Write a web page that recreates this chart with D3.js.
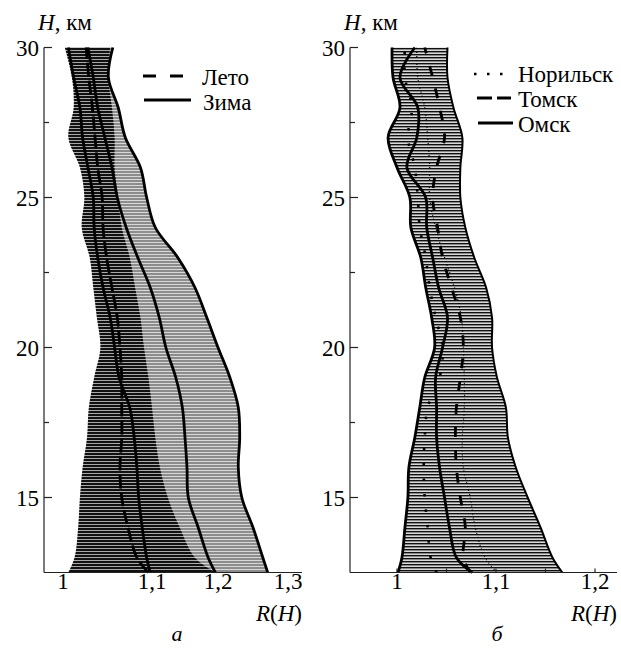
<!DOCTYPE html>
<html>
<head>
<meta charset="utf-8">
<script src="https://cdn.jsdelivr.net/npm/d3@7/dist/d3.min.js"></script>
<style>
  body { margin: 0; background: #fff; }
  svg text { font-family: "Liberation Serif", "Times New Roman", Times, "DejaVu Serif", "Noto Serif", serif; fill: #000; }
</style>
</head>
<body>
<svg id="chart" width="621" height="648" font-family="Liberation Serif, Times New Roman, DejaVu Serif, serif"></svg>
<script>
// Altitude levels, km (shared by both panels)
const heights = [12.5, 13, 14, 15, 16, 17, 18, 19, 20, 21, 22, 23, 24, 25, 26, 27, 28, 29, 30];

// Panel а: summer / winter profiles of R(H)
const letoLo   = [1.006, 1.013, 1.017, 1.019, 1.022, 1.027, 1.029, 1.035, 1.042, 1.038, 1.034, 1.030, 1.021, 1.024, 1.019, 1.006, 1.012, 1.010, 1.002];
const letoMean = [1.096, 1.083, 1.073, 1.066, 1.064, 1.066, 1.066, 1.066, 1.064, 1.061, 1.055, 1.049, 1.045, 1.044, 1.039, 1.036, 1.033, 1.029, 1.026];
const letoHi   = [1.196, 1.165, 1.142, 1.124, 1.112, 1.105, 1.100, 1.096, 1.091, 1.087, 1.081, 1.075, 1.066, 1.062, 1.058, 1.058, 1.055, 1.051, 1.053];
const zimaLo   = [1.098, 1.094, 1.089, 1.085, 1.083, 1.080, 1.075, 1.063, 1.058, 1.053, 1.045, 1.039, 1.035, 1.034, 1.028, 1.022, 1.019, 1.012, 1.006];
const zimaMean = [1.196, 1.185, 1.170, 1.155, 1.153, 1.150, 1.146, 1.136, 1.121, 1.111, 1.098, 1.084, 1.071, 1.061, 1.055, 1.047, 1.039, 1.034, 1.028];
const zimaHi   = [1.271, 1.264, 1.250, 1.234, 1.229, 1.231, 1.229, 1.217, 1.200, 1.183, 1.165, 1.139, 1.105, 1.094, 1.087, 1.070, 1.062, 1.051, 1.056];

// Panel б: stations
const bandLo   = [1.001, 1.005, 1.008, 1.011, 1.012, 1.018, 1.023, 1.028, 1.038, 1.035, 1.029, 1.024, 1.014, 1.013, 1.000, 0.991, 1.003, 0.996, 0.995];
const bandHi   = [1.167, 1.157, 1.145, 1.132, 1.120, 1.112, 1.110, 1.101, 1.096, 1.096, 1.090, 1.078, 1.069, 1.064, 1.064, 1.066, 1.057, 1.051, 1.051];
const omsk     = [1.076, 1.060, 1.053, 1.048, 1.043, 1.040, 1.040, 1.039, 1.046, 1.051, 1.042, 1.036, 1.030, 1.029, 1.010, 1.020, 1.021, 1.003, 1.018];
const tomsk    = [1.074, 1.067, 1.069, 1.064, 1.060, 1.059, 1.060, 1.064, 1.067, 1.064, 1.055, 1.046, 1.041, 1.036, 1.040, 1.048, 1.043, 1.036, 1.028];
const norilsk  = [1.101, 1.089, 1.079, 1.074, 1.067, 1.066, 1.068, 1.068, 1.067, 1.065, 1.058, 1.048, 1.039, 1.033, 1.033, 1.031, 1.028, 1.021, 1.020];
const norilskLo = [1.040, 1.034, 1.031, 1.028, 1.027, 1.028, 1.031, 1.043, 1.046, 1.039, 1.033, 1.029, 1.023, 1.021, 1.018, 1.011, 1.015, 1.008, 1.008];

// Tick labels
const yMajor = [15, 20, 25, 30];
const yMinor = [17.5, 22.5, 27.5];
const xTicksA = [1, 1.1, 1.2, 1.3];
const xTicksB = [1, 1.1, 1.2];
const xMinorB = [1, 1.05, 1.1, 1.15, 1.2];

const svg = d3.select('#chart');
const fmt = d3.formatLocale({ decimal: ',', thousands: ' ', grouping: [3], currency: ['', ''] }).format('~g');

// Hatch fills (horizontal error-bar lines)
const defs = svg.append('defs');
function hatch(id, bg, fg, lineH) {
  const p = defs.append('pattern')
    .attr('id', id)
    .attr('patternUnits', 'userSpaceOnUse')
    .attr('width', 6)
    .attr('height', 3);
  p.append('rect').attr('width', 6).attr('height', 3).attr('fill', bg);
  p.append('rect').attr('width', 6).attr('height', lineH).attr('fill', fg);
}
hatch('hatch-dark', '#a8a8a8', '#111', 2);
hatch('hatch-gray', '#d8d8d8', '#8c8c8c', 2);
hatch('hatch-b', '#d8d8d8', '#111', 1.4);

const y = d3.scaleLinear().domain([12.5, 30]).range([572.5, 47.5]);
const xA = d3.scaleLinear().domain([1, 1.1, 1.2, 1.3]).range([63, 152, 218, 288]);
const xB = d3.scaleLinear().domain([1, 1.2]).range([397, 595]);

const rows = (lo, hi) => heights.map((h, i) => ({ h, lo: lo[i], hi: hi[i] }));
const pts = (vals) => heights.map((h, i) => ({ h, v: vals[i] }));

function band(g, x, lo, hi, fill) {
  const area = d3.area()
    .curve(d3.curveCatmullRom)
    .y((d) => y(d.h))
    .x0((d) => x(d.lo))
    .x1((d) => x(d.hi));
  g.append('path').datum(rows(lo, hi)).attr('d', area).attr('fill', fill);
}

function curve(g, x, vals, opts) {
  const line = d3.line()
    .curve(d3.curveCatmullRom)
    .x((d) => x(d.v))
    .y((d) => y(d.h));
  g.append('path').datum(pts(vals))
    .attr('d', line)
    .attr('fill', 'none')
    .attr('stroke', '#000')
    .attr('stroke-width', opts.w || 2.8)
    .attr('stroke-dasharray', opts.dash || null)
    .attr('stroke-linecap', opts.cap || 'butt');
}

function axes(g, x0, x1, xs, ticks, minor) {
  const ax = g.append('g').attr('stroke', '#222').attr('stroke-width', 1.2);
  ax.append('line').attr('x1', x0).attr('x2', x0).attr('y1', y(30)).attr('y2', y(12.5));
  ax.append('line').attr('x1', x0).attr('x2', x1).attr('y1', y(12.5)).attr('y2', y(12.5));
  yMajor.forEach((h) => ax.append('line').attr('x1', x0).attr('x2', x0 + 8).attr('y1', y(h)).attr('y2', y(h)));
  yMinor.forEach((h) => ax.append('line').attr('x1', x0).attr('x2', x0 + 5).attr('y1', y(h)).attr('y2', y(h)));
  (minor || []).forEach((v) => ax.append('line').attr('x1', xs(v)).attr('x2', xs(v)).attr('y1', y(12.5)).attr('y2', y(12.5) - 4));

  g.selectAll('.ylab').data(yMajor).join('text')
    .attr('x', x0 - 5).attr('y', (d) => y(d)).attr('dy', '0.35em')
    .attr('text-anchor', 'end').attr('font-size', 23)
    .text((d) => d);
  g.selectAll('.xlab').data(ticks).join('text')
    .attr('x', (d) => xs(d)).attr('y', 589)
    .attr('text-anchor', 'middle').attr('font-size', 23)
    .text((d) => fmt(d));

  const hl = g.append('text').attr('x', x0 - 6).attr('y', 30).attr('font-size', 23);
  hl.append('tspan').attr('font-style', 'italic').text('H');
  hl.append('tspan').text(', км');

  const rl = g.append('text').attr('x', x1).attr('y', 621).attr('text-anchor', 'end').attr('font-size', 23);
  rl.append('tspan').attr('font-style', 'italic').text('R');
  rl.append('tspan').text('(');
  rl.append('tspan').attr('font-style', 'italic').text('H');
  rl.append('tspan').text(')');
}

// ---- Panel а
const gA = svg.append('g');
band(gA, xA, zimaLo, zimaHi, 'url(#hatch-gray)');
band(gA, xA, letoLo, letoHi, 'url(#hatch-dark)');
curve(gA, xA, letoMean, { dash: '14,4' });
curve(gA, xA, zimaLo, {});
curve(gA, xA, zimaMean, {});
curve(gA, xA, zimaHi, {});
axes(gA, 44, 302, xA, xTicksA, null);

gA.append('line').attr('x1', 143).attr('x2', 183).attr('y1', 76).attr('y2', 76)
  .attr('stroke', '#000').attr('stroke-width', 3).attr('stroke-dasharray', '13,14');
gA.append('line').attr('x1', 144).attr('x2', 191).attr('y1', 100).attr('y2', 100)
  .attr('stroke', '#000').attr('stroke-width', 3);
gA.append('text').attr('x', 202).attr('y', 85).attr('font-size', 23).text('Лето');
gA.append('text').attr('x', 203).attr('y', 110).attr('font-size', 23).text('Зима');
gA.append('text').attr('x', 177).attr('y', 641).attr('text-anchor', 'middle')
  .attr('font-size', 22).attr('font-style', 'italic').text('а');

// ---- Panel б
const gB = svg.append('g');
band(gB, xB, bandLo, bandHi, 'url(#hatch-b)');
curve(gB, xB, bandHi, { w: 2 });
curve(gB, xB, bandLo, { w: 2.8 });
curve(gB, xB, norilsk, { w: 1.2, dash: '1,3' });
curve(gB, xB, norilskLo, { w: 2.6, dash: '2.5,13' });
curve(gB, xB, tomsk, { w: 2.8, dash: '10,13' });
curve(gB, xB, omsk, { w: 2.8 });
axes(gB, 350, 617, xB, xTicksB, xMinorB);

gB.append('line').attr('x1', 474).attr('x2', 505).attr('y1', 74).attr('y2', 74)
  .attr('stroke', '#000').attr('stroke-width', 2.6).attr('stroke-dasharray', '2.5,10.5');
gB.append('line').attr('x1', 477).attr('x2', 511).attr('y1', 98).attr('y2', 98)
  .attr('stroke', '#000').attr('stroke-width', 3).attr('stroke-dasharray', '15,5');
gB.append('line').attr('x1', 478).attr('x2', 513).attr('y1', 123).attr('y2', 123)
  .attr('stroke', '#000').attr('stroke-width', 3);
gB.append('text').attr('x', 518).attr('y', 82).attr('font-size', 23).text('Норильск');
gB.append('text').attr('x', 518).attr('y', 107).attr('font-size', 23).text('Томск');
gB.append('text').attr('x', 518).attr('y', 132).attr('font-size', 23).text('Омск');
gB.append('text').attr('x', 497).attr('y', 641).attr('text-anchor', 'middle')
  .attr('font-size', 22).attr('font-style', 'italic').text('б');
</script>
</body>
</html>
